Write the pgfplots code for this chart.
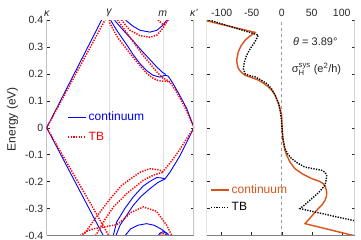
\documentclass[border=0pt]{standalone}
\usepackage{amsmath}
\usepackage{pgfplots}
\pgfplotsset{compat=1.18}
\usepackage{fontspec}
\setmainfont{Liberation Sans}
\definecolor{morange}{RGB}{217,83,25}
\definecolor{tickgray}{RGB}{38,38,38}
\begin{document}
\begin{tikzpicture}
\useasboundingbox (0pt,0pt) rectangle (361pt,240pt);
\pgfplotsset{
  every axis/.append style={
    scale only axis, anchor=south west,
    ymin=-0.4, ymax=0.4,
    axis line style={draw=none},
    tick align=inside, major tick length=3pt,
    tick style={tickgray, line width=0.4pt},
    tick label style={font=\fontsize{10.5}{12}\selectfont, text=tickgray},
    /pgf/number format/assume math mode=true,
    ytick={-0.4,-0.3,-0.2,-0.1,0,0.1,0.2,0.3,0.4},
    ytick pos=both,
    legend cell align=left,
    legend image code/.code={\draw[##1] (0pt,0pt) -- (18pt,0pt);},
  },
  bl/.style={blue, line width=0.9pt},
  rd/.style={red, line width=1.5pt, dash pattern=on 1.3pt off 1.3pt},
}
% ---------------- left panel: bands ----------------
\begin{axis}[
  at={(46.7pt,4.5pt)}, width=147.3pt, height=215.5pt,
  xmin=0, xmax=3.155,
  xtick={0,1.3333,2.488,3.155},
  xticklabels={{\itshape κ},{\itshape γ},{\itshape m},{\itshape κ'}},
  xticklabel pos=upper,
  xtick style={draw=none},
  yticklabel pos=left,
  ylabel={Energy (eV)},
  ylabel style={font=\fontsize{12}{14}\selectfont, text=tickgray, at={(ticklabel cs:0.54)}},
  legend style={draw=none, fill=none, at={(axis cs:0.44,0.003)}, anchor=west,
    row sep=6pt, font=\fontsize{12}{14}\selectfont, inner sep=0pt, nodes={inner sep=1.8pt}},
]
\draw[black!12, line width=0.5pt] (axis cs:1.3333,-0.4) -- (axis cs:1.3333,0.4);
\draw[black!12, line width=0.5pt] (axis cs:2.488,-0.4) -- (axis cs:2.488,0.4);
% blue continuum
\addplot[bl] coordinates {(0,0) (1.25,0.425)};
\addlegendentry[text=blue]{continuum}
\addplot[rd] coordinates {(0,0) (1.249,0.40) (1.30,0.416)};
\addlegendentry[text=red]{TB}
\addplot[bl, forget plot] coordinates {(0,0) (1.21,-0.4) (1.26,-0.417)};
\addplot[bl, forget plot] coordinates {(1.42,0.43) (1.463,0.397) (1.65,0.36) (1.848,0.323) (2.03,0.287) (2.212,0.253) (2.36,0.225) (2.49,0.204) (2.55,0.198)};
\addplot[bl, forget plot] coordinates {(1.34,0.43) (1.377,0.397) (1.47,0.37) (1.570,0.344) (1.719,0.307) (1.85,0.272) (1.998,0.238) (2.14,0.212) (2.276,0.195) (2.426,0.188) (2.533,0.195) (2.60,0.192) (2.70,0.166) (2.854,0.119) (3.0,0.071) (3.155,0)};
\addplot[bl, forget plot] coordinates {(1.66,0.41) (1.70,0.398) (1.848,0.377) (1.998,0.362) (2.212,0.355) (2.362,0.362) (2.49,0.381) (2.576,0.40) (2.60,0.41)};
\addplot[bl, forget plot] coordinates {(1.40,-0.41) (1.426,-0.40) (1.499,-0.350) (1.677,-0.299) (1.854,-0.257) (2.062,-0.217) (2.212,-0.199) (2.355,-0.185) (2.447,-0.186) (2.533,-0.190) (2.64,-0.165) (2.75,-0.134) (2.854,-0.104) (3.004,-0.052) (3.155,0)};
\addplot[bl, forget plot] coordinates {(1.47,-0.41) (1.484,-0.40) (1.57,-0.362) (1.713,-0.325) (1.854,-0.288) (2.019,-0.255) (2.212,-0.226) (2.383,-0.203) (2.533,-0.19)};
\addplot[bl, forget plot] coordinates {(1.66,-0.41) (1.68,-0.40) (1.80,-0.375) (1.95,-0.362) (2.14,-0.356) (2.30,-0.362) (2.45,-0.376) (2.60,-0.395) (2.64,-0.41)};
\addplot[bl, forget plot] coordinates {(2.36,-0.41) (2.42,-0.392) (2.49,-0.386) (2.56,-0.392) (2.62,-0.41)};
% red TB
\addplot[rd, forget plot] coordinates {(0,0) (0.3,-0.09) (0.7,-0.21) (1.0,-0.30) (1.33,-0.40) (1.36,-0.41)};
\addplot[rd, forget plot] coordinates {(1.50,0.41) (1.529,0.397) (1.70,0.356) (1.891,0.310) (2.05,0.272) (2.212,0.238) (2.36,0.207) (2.49,0.184) (2.576,0.177) (2.64,0.170) (2.75,0.141) (2.81,0.124) (2.95,0.08) (3.155,0)};
\addplot[rd, forget plot] coordinates {(1.33,0.41) (1.357,0.387) (1.44,0.36) (1.527,0.333) (1.69,0.297) (1.848,0.262) (2.0,0.23) (2.148,0.201) (2.26,0.186) (2.362,0.177) (2.47,0.173) (2.576,0.173) (2.64,0.168)};
\addplot[rd, forget plot] coordinates {(1.58,0.41) (1.61,0.40) (1.70,0.378) (1.784,0.362) (1.998,0.342) (2.212,0.336) (2.362,0.344) (2.49,0.37) (2.597,0.40) (2.62,0.41)};
\addplot[rd, forget plot] coordinates {(2.37,0.41) (2.39,0.40) (2.50,0.381) (2.60,0.40) (2.62,0.41)};
\addplot[rd, forget plot] coordinates {(0.76,-0.41) (0.78,-0.40) (1.07,-0.33) (1.33,-0.27) (1.6,-0.215) (1.85,-0.183) (2.0,-0.165) (2.21,-0.152) (2.40,-0.156) (2.49,-0.163) (2.57,-0.146) (2.70,-0.118) (2.854,-0.08) (3.0,-0.04) (3.155,0)};
\addplot[rd, forget plot] coordinates {(1.03,-0.41) (1.05,-0.40) (1.25,-0.34) (1.43,-0.294) (1.71,-0.245) (2.07,-0.195) (2.3,-0.175) (2.49,-0.165)};
\addplot[rd, forget plot] coordinates {(0.70,-0.41) (0.72,-0.40) (0.85,-0.385) (1.0,-0.375) (1.33,-0.365) (1.50,-0.36) (1.65,-0.34) (1.80,-0.315) (2.07,-0.294) (2.35,-0.31) (2.57,-0.362) (2.68,-0.40) (2.70,-0.41)};
\addplot[rd, forget plot] coordinates {(2.36,-0.41) (2.45,-0.392) (2.52,-0.395) (2.62,-0.41)};
% frame
\draw[black!70, line width=0.5pt] (rel axis cs:0,0) -- (rel axis cs:0,1);
\draw[black!50, line width=0.5pt] (rel axis cs:0,0) -- (rel axis cs:1,0);
\draw[black!22, line width=1.3pt] (rel axis cs:1,0) -- (rel axis cs:1,1);
\end{axis}
% ---------------- right panel: Hall conductivity ----------------
\begin{axis}[
  at={(206.5pt,4.5pt)}, width=148pt, height=215.5pt,
  xmin=-125.3, xmax=121.3,
  xtick={-100,-50,0,50,100},
  xticklabel pos=upper, xtick pos=lower,
  yticklabels={},
  legend style={draw=none, fill=none, at={(axis cs:-119,-0.263)}, anchor=west,
    row sep=4pt, font=\fontsize{12}{14}\selectfont, inner sep=0pt, nodes={inner sep=1.8pt}},
]
\draw[black!40, dashed, line width=0.5pt] (axis cs:0,-0.4) -- (axis cs:0,0.4);
\addplot[morange, line width=1.4pt] coordinates {
(-125.3,0.397) (-44.5,0.354) (-53,0.34) (-61,0.325) (-68,0.303) (-72.3,0.282) (-75,0.251) (-74,0.235) (-72.3,0.22) (-67,0.205) (-61,0.195) (-50,0.186) (-39,0.177) (-30,0.165) (-22.3,0.152) (-16,0.137) (-11,0.121) (-4.5,0.084) (-1.5,0.06) (0,0.046) (0.5,0.009) (1.2,-0.02) (2.7,-0.053) (5,-0.08) (8.3,-0.102) (14,-0.128) (22,-0.152) (35,-0.172) (50,-0.189) (62,-0.198) (69,-0.207) (73,-0.22) (75,-0.239) (74.5,-0.255) (72,-0.27) (67,-0.287) (61,-0.30) (50,-0.328) (38.8,-0.356) (121.3,-0.401)};
\addlegendentry[text=morange]{continuum}
\addplot[black, line width=1.4pt, dash pattern=on 1.3pt off 1.3pt] coordinates {
(-121,0.40) (-39,0.344) (-44.5,0.319) (-52,0.295) (-58.3,0.27) (-62,0.245) (-64,0.22) (-61,0.2) (-53,0.193) (-44.5,0.189) (-35,0.178) (-25,0.164) (-17,0.145) (-11,0.121) (-5,0.09) (-2.8,0.065) (-0.5,0.03) (0.5,0) (2,-0.04) (5.5,-0.077) (10,-0.097) (16.7,-0.115) (27,-0.132) (38.8,-0.146) (55,-0.153) (66.7,-0.158) (72,-0.165) (75,-0.177) (74,-0.195) (72,-0.214) (62,-0.24) (50,-0.263) (40,-0.283) (30.5,-0.30) (55.5,-0.313) (94,-0.332) (121.3,-0.345)};
\addlegendentry[text=black]{TB}
\node[font=\fontsize{11}{13}\selectfont, text=tickgray] at (axis cs:56,0.319) {{\itshape θ} = 3.89°};
\node[font=\fontsize{11}{13}\selectfont, text=tickgray] at (axis cs:58,0.217) {$\text{σ}^{\text{sys}}_{\text{H}}$ (e\textsuperscript{2}/h)};
\draw[black!25, line width=0.6pt] (rel axis cs:0,0) -- (rel axis cs:0,1);
\draw[black!25, line width=0.6pt] (rel axis cs:1,0) -- (rel axis cs:1,1);
\draw[black!50, line width=0.5pt] (rel axis cs:0,0) -- (rel axis cs:1,0);
\end{axis}
\end{tikzpicture}
\end{document}
